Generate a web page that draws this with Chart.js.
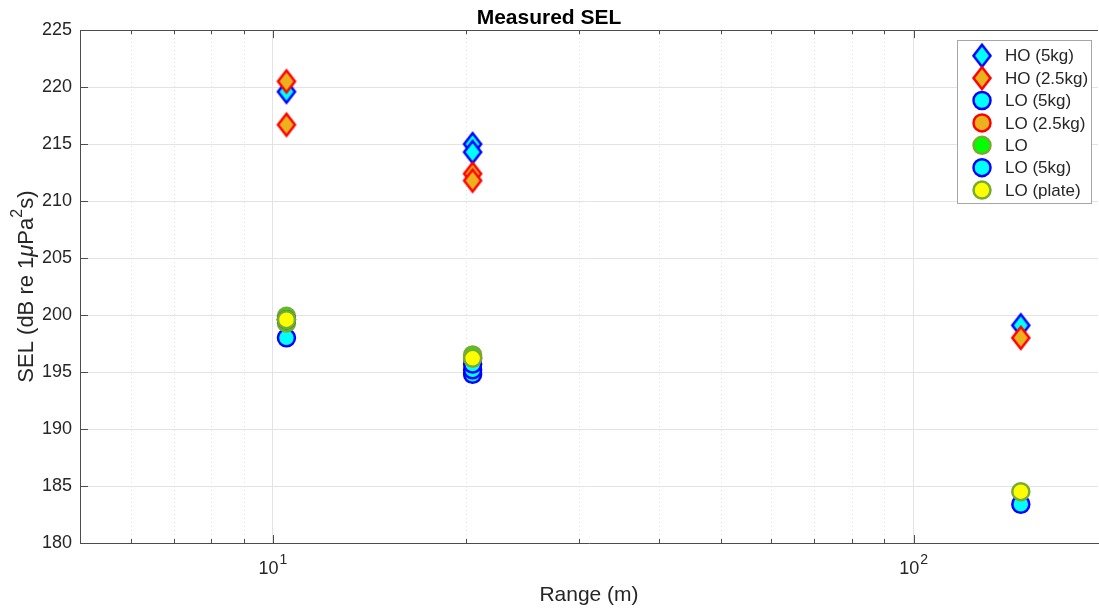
<!DOCTYPE html>
<html>
<head>
<meta charset="utf-8">
<script src="https://cdn.jsdelivr.net/npm/chart.js@4/dist/chart.umd.min.js"></script>
<style>
  html, body { margin: 0; padding: 0; background: #fff; overflow: hidden; }
  canvas { display: block; }
</style>
</head>
<body>
<canvas id="sel-chart" width="1099" height="612"></canvas>
<script>
// Values: range in metres, SEL in dB re 1uPa^2s
const ho5Range = [10.5, 20.5, 20.5, 147];
const ho5Sel = [219.6, 215.0, 214.3, 199.1];
const ho25Range = [10.5, 10.5, 20.5, 20.5, 147];
const ho25Sel = [220.5, 216.7, 212.4, 211.8, 198.0];
const lo5Range = [10.5, 20.5, 147];
const lo5Sel = [198.0, 194.8, 183.4];
const lo25Range = [10.5, 20.5];
const lo25Sel = [199.6, 196.2];
const loRange = [10.5, 10.5, 20.5];
const loSel = [199.9, 199.3, 196.5];
const lo5bRange = [10.5, 20.5, 20.5];
const lo5bSel = [199.6, 195.2, 195.7];
const plateRange = [10.5, 20.5, 147];
const plateSel = [199.6, 196.2, 184.5];

const seriesLabels = ['HO (5kg)', 'HO (2.5kg)', 'LO (5kg)', 'LO (2.5kg)', 'LO', 'LO (5kg)', 'LO (plate)'];
const xMajorTicks = [10, 100];
const xTickExponents = ['1', '2'];
const xMinorTicks = [6, 7, 8, 9, 20, 30, 40, 50, 60, 70, 80, 90];

const FONT = "'Liberation Sans', Arial, sans-serif";
const TEXT = '#262626';

// diamond marker (MATLAB style, taller than wide)
function diamond(edge, fill) {
    const c = document.createElement('canvas');
    c.width = 22; c.height = 28;
    const g = c.getContext('2d');
    g.beginPath();
    g.moveTo(11, 3); g.lineTo(19.5, 14); g.lineTo(11, 25); g.lineTo(2.5, 14);
    g.closePath();
    g.fillStyle = fill; g.fill();
    g.lineWidth = 2.5; g.strokeStyle = edge; g.lineJoin = 'miter'; g.stroke();
    return c;
}

function pts(xs, ys) {
    return xs.map((x, i) => ({ x: x, y: ys[i] }));
}

const styles = [
    { edge: '#0000ff', fill: '#00ffff', shape: 'diamond' },
    { edge: '#ff0000', fill: '#edb120', shape: 'diamond' },
    { edge: '#0000ff', fill: '#00ffff', shape: 'circle' },
    { edge: '#ff0000', fill: '#edb120', shape: 'circle' },
    { edge: '#77ac30', fill: '#00ff00', shape: 'circle' },
    { edge: '#0000ff', fill: '#00ffff', shape: 'circle' },
    { edge: '#77ac30', fill: '#ffff00', shape: 'circle' }
];
const allData = [
    pts(ho5Range, ho5Sel), pts(ho25Range, ho25Sel), pts(lo5Range, lo5Sel),
    pts(lo25Range, lo25Sel), pts(loRange, loSel), pts(lo5bRange, lo5bSel),
    pts(plateRange, plateSel)
];

const datasets = allData.map((d, i) => {
    const s = styles[i];
    const ds = {
        label: seriesLabels[i],
        data: d,
        showLine: false,
        order: allData.length - i,   // later series drawn on top, like MATLAB
        borderColor: s.edge,
        backgroundColor: s.fill,
        pointBorderWidth: 2.5,
        pointHoverBorderWidth: 2.5
    };
    if (s.shape === 'diamond') {
        ds.pointStyle = diamond(s.edge, s.fill);
        ds.pointRadius = 12;
    } else {
        ds.pointStyle = 'circle';
        ds.pointRadius = 8.5;
        ds.pointHoverRadius = 8.5;
    }
    return ds;
});

// minor grid, tick marks and box top line
const axesExtras = {
    id: 'axesExtras',
    beforeDatasetsDraw(chart) {
        const { ctx, chartArea: a, scales } = chart;
        ctx.save();
        ctx.strokeStyle = '#dedede';
        ctx.lineWidth = 1;
        ctx.setLineDash([1, 3]);
        xMinorTicks.forEach(v => {
            const px = Math.round(scales.x.getPixelForValue(v)) + 0.5;
            ctx.beginPath(); ctx.moveTo(px, a.top); ctx.lineTo(px, a.bottom); ctx.stroke();
        });
        ctx.setLineDash([]);
        ctx.strokeStyle = '#4d4d4d';
        xMinorTicks.forEach(v => {
            const px = Math.round(scales.x.getPixelForValue(v)) + 0.5;
            ctx.beginPath(); ctx.moveTo(px, a.bottom); ctx.lineTo(px, a.bottom - 4); ctx.stroke();
            ctx.beginPath(); ctx.moveTo(px, a.top); ctx.lineTo(px, a.top + 4); ctx.stroke();
        });
        xMajorTicks.forEach(v => {
            const px = Math.round(scales.x.getPixelForValue(v)) + 0.5;
            ctx.beginPath(); ctx.moveTo(px, a.bottom); ctx.lineTo(px, a.bottom - 8); ctx.stroke();
            ctx.beginPath(); ctx.moveTo(px, a.top); ctx.lineTo(px, a.top + 8); ctx.stroke();
        });
        scales.y.ticks.forEach(t => {
            const py = Math.round(scales.y.getPixelForValue(t.value)) + 0.5;
            ctx.beginPath(); ctx.moveTo(a.left, py); ctx.lineTo(a.left + 8, py); ctx.stroke();
        });
        ctx.beginPath();
        ctx.moveTo(a.left, Math.round(a.top) + 0.5);
        ctx.lineTo(a.right, Math.round(a.top) + 0.5);
        ctx.stroke();
        ctx.restore();
    },
    afterDraw(chart) {
        const { ctx, chartArea: a, scales } = chart;
        ctx.save();
        ctx.fillStyle = TEXT;
        ctx.textBaseline = 'alphabetic';
        ctx.textAlign = 'left';
        // x tick labels as 10^n with a raised exponent
        xMajorTicks.forEach((v, i) => {
            const px = scales.x.getPixelForValue(v);
            ctx.font = '18px ' + FONT;
            const wBase = ctx.measureText('10').width;
            ctx.font = '14px ' + FONT;
            const wExp = ctx.measureText(xTickExponents[i]).width;
            const x0 = px - (wBase + wExp + 1) / 2;
            ctx.font = '18px ' + FONT;
            ctx.fillText('10', x0, a.bottom + 31);
            ctx.font = '14px ' + FONT;
            ctx.fillText(xTickExponents[i], x0 + wBase + 1, a.bottom + 21);
        });
        // y axis title with italic mu and superscript 2
        const parts = [
            { t: 'SEL (dB re 1', f: '22px ' + FONT, dy: 0 },
            { t: '\u03bc', f: 'italic 22px ' + FONT, dy: 0 },
            { t: 'Pa', f: '22px ' + FONT, dy: 0 },
            { t: '2', f: '16px ' + FONT, dy: -11 },
            { t: 's)', f: '22px ' + FONT, dy: 0 }
        ];
        let total = 0;
        parts.forEach(p => { ctx.font = p.f; p.w = ctx.measureText(p.t).width; total += p.w; });
        ctx.translate(25, (a.top + a.bottom) / 2);
        ctx.rotate(-Math.PI / 2);
        let x = -total / 2;
        parts.forEach(p => {
            ctx.font = p.f;
            ctx.fillText(p.t, x, 8 + p.dy);
            x += p.w;
        });
        ctx.restore();
    }
};

// legend box inside the axes, top right
const boxLegend = {
    id: 'boxLegend',
    afterDraw(chart) {
        const ctx = chart.ctx;
        const x0 = 957.5, y0 = 40.5, w = 134, h = 163;
        ctx.save();
        ctx.fillStyle = '#ffffff';
        ctx.fillRect(x0, y0, w, h);
        ctx.strokeStyle = '#a6a6a6';
        ctx.lineWidth = 1;
        ctx.strokeRect(x0, y0, w, h);
        ctx.font = '17px ' + FONT;
        ctx.textBaseline = 'middle';
        seriesLabels.forEach((lab, i) => {
            const cy = 55.7 + i * 22.4;
            const s = styles[i];
            if (s.shape === 'diamond') {
                ctx.drawImage(diamond(s.edge, s.fill), 982 - 11, cy - 14);
            } else {
                ctx.beginPath();
                ctx.arc(982, cy, 8.5, 0, Math.PI * 2);
                ctx.fillStyle = s.fill; ctx.fill();
                ctx.lineWidth = 2.5; ctx.strokeStyle = s.edge; ctx.stroke();
            }
            ctx.fillStyle = TEXT;
            ctx.fillText(lab, 1005, cy + 1);
        });
        ctx.restore();
    }
};

const ctx = document.getElementById('sel-chart').getContext('2d');
const chart = new Chart(ctx, {
    type: 'scatter',
    data: { datasets: datasets },
    plugins: [axesExtras, boxLegend],
    options: {
        responsive: false,
        animation: false,
        layout: { autoPadding: false, padding: { left: 0, right: 1, top: 0, bottom: 0 } },
        plugins: {
            legend: { display: false },
            tooltip: { enabled: false },
            title: {
                display: true,
                text: 'Measured SEL',
                color: '#000',
                font: { family: FONT, size: 21, weight: 'bold', lineHeight: 1.15 },
                padding: { top: 6, bottom: 0 }
            }
        },
        scales: {
            x: {
                type: 'logarithmic',
                min: 5,
                max: 194,
                afterBuildTicks: scale => {
                    scale.ticks = xMajorTicks.map(v => ({ value: v }));
                },
                afterFit: scale => {
                    scale.height = 69;
                    scale.paddingLeft = 0;
                    scale.paddingRight = 0;
                },
                ticks: { display: false },
                grid: { color: '#e3e3e3', drawTicks: false },
                border: { color: '#4d4d4d', width: 1 },
                title: {
                    display: true,
                    text: 'Range (m)',
                    color: TEXT,
                    font: { family: FONT, size: 21, lineHeight: 1.2 },
                    padding: 4
                }
            },
            y: {
                min: 180,
                max: 225,
                afterFit: scale => { scale.width = 80; },
                ticks: {
                    stepSize: 5,
                    padding: 8,
                    color: TEXT,
                    font: { family: FONT, size: 18 }
                },
                grid: { color: '#e3e3e3', drawTicks: false },
                border: { color: '#4d4d4d', width: 1 }
            }
        }
    }
});
</script>
</body>
</html>
